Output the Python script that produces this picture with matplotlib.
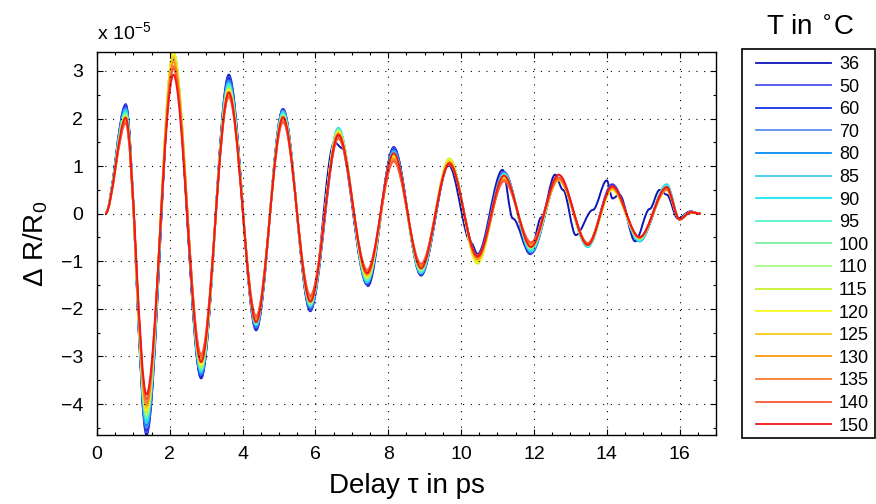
import matplotlib
matplotlib.use("Agg")
import matplotlib.pyplot as plt
from matplotlib.path import Path
from matplotlib.patches import PathPatch, Rectangle
from matplotlib.lines import Line2D
from matplotlib.ticker import MultipleLocator

plt.rcParams['font.family'] = ['Liberation Sans', 'DejaVu Sans']

# temperaturas y colores de cada curva
temps = ['36', '50', '60', '70', '80', '85', '90', '95', '100', '110',
         '115', '120', '125', '130', '135', '140', '150']
colors = ['#0d16b8', '#4a4ff0', '#1730e6', '#5a8ff0', '#0a8cf5', '#45c8ee',
          '#12e8f0', '#55f5cc', '#7cf0a0', '#a8f880', '#c8f030', '#f8f820',
          '#f8c818', '#f89a10', '#f87c30', '#f85a35', '#f01818']

# tiempos de los extremos (ps), inicio y cola comunes
t_start = 0.23
t_ext = [0.79, 1.36, 2.10, 2.86, 3.62, 4.37, 5.11, 5.86, 6.63, 7.42, 8.15,
         8.90, 9.68, 10.45, 11.18, 11.92, 12.68, 13.48, 14.15, 14.90, 15.65]
t_tail = [16.00, 16.30, 16.58]
y_tail = [-0.12, 0.03, 0.0]

# valores de los extremos en unidades de 1e-5, una lista por temperatura
ext = {
    '50':  [2.28, -4.60, 3.30, -3.42, 2.88, -2.42, 2.20, -2.03, 1.62, -1.50, 1.38,
            -1.28, 1.05, -0.88, 0.88, -0.84, 0.75, -0.64, 0.62, -0.58, 0.55],
    '60':  [2.25, -4.55, 3.28, -3.44, 2.85, -2.40, 2.18, -2.00, 1.70, -1.48, 1.35,
            -1.27, 1.08, -0.90, 0.86, -0.82, 0.75, -0.66, 0.60, -0.57, 0.56],
    '70':  [2.22, -4.50, 3.32, -3.38, 2.80, -2.38, 2.16, -1.98, 1.75, -1.46, 1.33,
            -1.26, 1.10, -0.92, 0.85, -0.80, 0.74, -0.68, 0.58, -0.56, 0.58],
    '80':  [2.20, -4.45, 3.30, -3.36, 2.78, -2.36, 2.14, -1.96, 1.78, -1.45, 1.32,
            -1.25, 1.12, -0.95, 0.84, -0.78, 0.74, -0.68, 0.56, -0.56, 0.60],
    '85':  [2.18, -4.40, 3.35, -3.33, 2.75, -2.34, 2.15, -1.95, 1.80, -1.44, 1.30,
            -1.25, 1.15, -0.97, 0.85, -0.80, 0.76, -0.70, 0.55, -0.58, 0.62],
    '90':  [2.15, -4.35, 3.33, -3.30, 2.72, -2.33, 2.12, -1.93, 1.80, -1.42, 1.28,
            -1.24, 1.15, -0.98, 0.83, -0.78, 0.75, -0.70, 0.55, -0.57, 0.60],
    '95':  [2.12, -4.30, 3.38, -3.28, 2.70, -2.32, 2.10, -1.92, 1.78, -1.40, 1.26,
            -1.22, 1.14, -1.00, 0.82, -0.75, 0.74, -0.68, 0.54, -0.55, 0.58],
    '100': [2.10, -4.27, 3.40, -3.25, 2.66, -2.30, 2.08, -1.90, 1.76, -1.38, 1.25,
            -1.20, 1.14, -1.02, 0.80, -0.73, 0.74, -0.67, 0.53, -0.53, 0.56],
    '110': [2.08, -4.22, 3.38, -3.22, 2.64, -2.28, 2.06, -1.88, 1.75, -1.36, 1.24,
            -1.18, 1.15, -1.03, 0.80, -0.72, 0.73, -0.66, 0.52, -0.52, 0.55],
    '115': [2.05, -4.18, 3.40, -3.20, 2.62, -2.26, 2.04, -1.86, 1.73, -1.34, 1.22,
            -1.16, 1.16, -1.05, 0.78, -0.70, 0.72, -0.66, 0.50, -0.52, 0.54],
    '120': [2.02, -4.13, 3.37, -3.17, 2.60, -2.24, 2.02, -1.84, 1.72, -1.32, 1.20,
            -1.14, 1.14, -1.02, 0.76, -0.68, 0.72, -0.65, 0.50, -0.51, 0.52],
    '125': [1.98, -4.08, 3.30, -3.10, 2.56, -2.22, 2.00, -1.80, 1.70, -1.30, 1.18,
            -1.12, 1.10, -0.98, 0.74, -0.66, 0.70, -0.64, 0.52, -0.50, 0.50],
    '130': [1.95, -4.03, 3.20, -3.05, 2.52, -2.20, 1.98, -1.78, 1.68, -1.28, 1.15,
            -1.10, 1.08, -0.95, 0.72, -0.64, 0.72, -0.63, 0.54, -0.50, 0.50],
    '135': [1.92, -3.98, 3.10, -3.00, 2.50, -2.18, 1.95, -1.75, 1.60, -1.22, 1.12,
            -1.08, 1.05, -0.92, 0.70, -0.62, 0.74, -0.62, 0.55, -0.50, 0.52],
    '140': [1.90, -3.90, 3.05, -2.96, 2.45, -2.15, 1.92, -1.72, 1.58, -1.18, 1.10,
            -1.05, 1.03, -0.88, 0.68, -0.60, 0.76, -0.62, 0.56, -0.49, 0.53],
    '150': [2.02, -3.80, 2.92, -3.12, 2.55, -2.28, 2.03, -1.85, 1.66, -1.25, 1.27,
            -1.15, 1.06, -0.90, 0.80, -0.70, 0.82, -0.66, 0.58, -0.50, 0.56],
}

# la curva de 36 °C tiene más irregularidades, sus nodos van aparte
t_36 = [0.23, 0.79, 1.36, 2.10, 2.86, 3.62, 4.37, 5.11, 5.86, 6.52, 6.75, 7.30,
        7.44, 8.15, 8.90, 9.66, 10.28, 10.45, 11.14, 11.42, 11.90, 12.20, 12.58,
        12.80, 13.15, 13.62, 14.00, 14.16, 14.35, 14.78, 15.18, 15.45, 15.65,
        15.95, 16.30, 16.58]
y_36 = [0.0, 2.30, -4.65, 3.25, -3.46, 2.92, -2.45, 2.20, -2.05, 1.50, 1.37, -1.08,
        -1.52, 1.40, -1.30, 1.02, -0.62, -0.85, 0.92, -0.10, -0.85, -0.08, 0.82,
        0.50, -0.45, 0.08, 0.70, 0.32, 0.40, -0.58, 0.10, 0.50, 0.40,
        -0.10, 0.05, 0.0]


def smooth_path(ts, ys):
    # curva de Bezier con tangente horizontal en cada nodo
    verts = [(ts[0], ys[0])]
    codes = [Path.MOVETO]
    for i in range(1, len(ts)):
        d = (ts[i] - ts[i - 1]) / 3
        verts += [(ts[i - 1] + d, ys[i - 1]), (ts[i] - d, ys[i]), (ts[i], ys[i])]
        codes += [Path.CURVE4] * 3
    return Path(verts, codes)


fig = plt.figure(figsize=(8.76, 5.04), dpi=100)
ax = fig.add_axes([0.1107, 0.137, 0.7066, 0.760])

handles = []
for temp, col in zip(temps, colors):
    if temp == '36':
        ts, ys = t_36, y_36
    else:
        ts = [t_start] + t_ext + t_tail
        ys = [0.0] + ext[temp] + y_tail
    ax.add_patch(PathPatch(smooth_path(ts, ys), facecolor='none', edgecolor=col, lw=1.4))
    handles.append(Line2D([], [], color=col, lw=1.3))

ax.set_xlim(0, 17)
ax.set_ylim(-4.65, 3.4)
ax.set_xticks(range(0, 17, 2))
ax.set_yticks(range(-4, 4))
ax.xaxis.set_minor_locator(MultipleLocator(0.5))
ax.yaxis.set_minor_locator(MultipleLocator(0.5))
ax.tick_params(which='both', direction='in', top=True, right=True, width=0.8)
ax.tick_params(which='major', length=4, labelsize=14)
ax.tick_params(which='minor', length=2)
ax.tick_params(axis='x', pad=8)
ax.tick_params(axis='y', pad=10)
ax.grid(True, which='major', color='black', lw=0.8, linestyle=(0, (1, 6)))
for s in ax.spines.values():
    s.set_linewidth(1.0)

ax.set_xlabel('Delay τ in ps', fontsize=20, labelpad=7)
ax.set_ylabel(r'Δ R/R$_\mathregular{0}$', fontsize=20, labelpad=8)
ax.text(0.0, 1.031, r'x 10$^{\mathregular{-5}}$', transform=ax.transAxes,
        fontsize=14, ha='left', va='baseline')

# leyenda sin marco propio, el marco se dibuja aparte
fig.legend(handles, temps, loc='upper left', bbox_to_anchor=(756 / 876, 1 - 56 / 504),
           borderaxespad=0, borderpad=0, fontsize=13, handlelength=4.15,
           labelspacing=0.31, handletextpad=0.45, frameon=False)
fig.add_artist(Rectangle((741.7 / 876, 1 - 438.3 / 504), 133.3 / 876, 389 / 504,
                         transform=fig.transFigure, facecolor='none',
                         edgecolor='black', lw=1.2))
fig.text(0.925, 0.945, r'T in $^{\circ}$C', fontsize=20, ha='center', va='center')

fig.savefig('out.png', dpi=100)
